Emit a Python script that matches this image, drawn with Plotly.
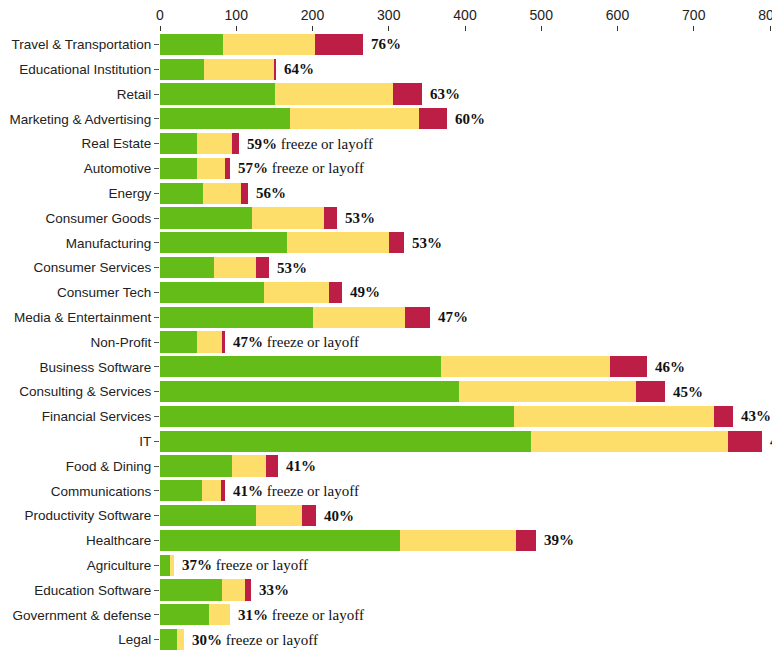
import plotly.graph_objects as go

categories = ["Travel & Transportation", "Educational Institution", "Retail", "Marketing & Advertising",
              "Real Estate", "Automotive", "Energy", "Consumer Goods", "Manufacturing",
              "Consumer Services", "Consumer Tech", "Media & Entertainment", "Non-Profit",
              "Business Software", "Consulting & Services", "Financial Services", "IT",
              "Food & Dining", "Communications", "Productivity Software", "Healthcare",
              "Agriculture", "Education Software", "Government & defense", "Legal"]
green = [82, 58, 151, 170, 48, 48, 57, 120, 166, 71, 136, 200, 48, 368, 392, 464, 486, 95, 55, 126, 315, 13, 81, 64, 22]
yellow = [121, 91, 155, 170, 46, 37, 49, 95, 134, 55, 85, 121, 33, 222, 232, 262, 259, 44, 25, 60, 152, 6, 31, 28, 10]
red = [63, 3, 37, 37, 10, 7, 10, 17, 20, 17, 18, 33, 4, 49, 38, 26, 44, 16, 5, 18, 26, 0, 7, 0, 0]
percent = [76, 64, 63, 60, 59, 57, 56, 53, 53, 53, 49, 47, 47, 46, 45, 43, 42, 41, 41, 40, 39, 37, 33, 31, 30]
suffix = ["", "", "", "", "freeze or layoff", "freeze or layoff", "", "", "", "", "", "", "freeze or layoff",
          "", "", "", "", "", "freeze or layoff", "", "", "freeze or layoff", "", "freeze or layoff", "freeze or layoff"]

GREEN = "#64BC19"
YELLOW = "#FDDE6A"
RED = "#BD1E46"

fig = go.Figure()
for vals, col in [(green, GREEN), (yellow, YELLOW), (red, RED)]:
    fig.add_trace(go.Bar(y=categories, x=vals, orientation="h", marker=dict(color=col, line=dict(width=0)),
                         showlegend=False))

for cat, g, yv, r, p, s in zip(categories, green, yellow, red, percent, suffix):
    txt = f"<b>{p}%</b>" + (f" {s}" if s else "")
    fig.add_annotation(x=g + yv + r, y=cat, text=txt, xanchor="left", xshift=6, showarrow=False,
                       font=dict(family="Liberation Serif", size=15, color="#111"))

fig.update_layout(
    width=772, height=647, barmode="stack", bargap=0.15,
    margin=dict(l=152, r=10, t=24, b=3, autoexpand=False),
    plot_bgcolor="white", paper_bgcolor="white",
    xaxis=dict(side="top", range=[0, 800], dtick=100, showgrid=False, zeroline=False, showline=False,
               ticks="outside", ticklen=5, tickcolor="#333", automargin=False, ticklabeloverflow="allow",
               tickfont=dict(family="Liberation Sans", size=14, color="#222")),
    yaxis=dict(autorange="reversed", showgrid=False, zeroline=False, showline=False,
               ticks="outside", ticklen=5, tickcolor="#555", automargin=False,
               tickfont=dict(family="Liberation Sans", size=13.5, color="#222")),
)

fig.write_html("out.html")
